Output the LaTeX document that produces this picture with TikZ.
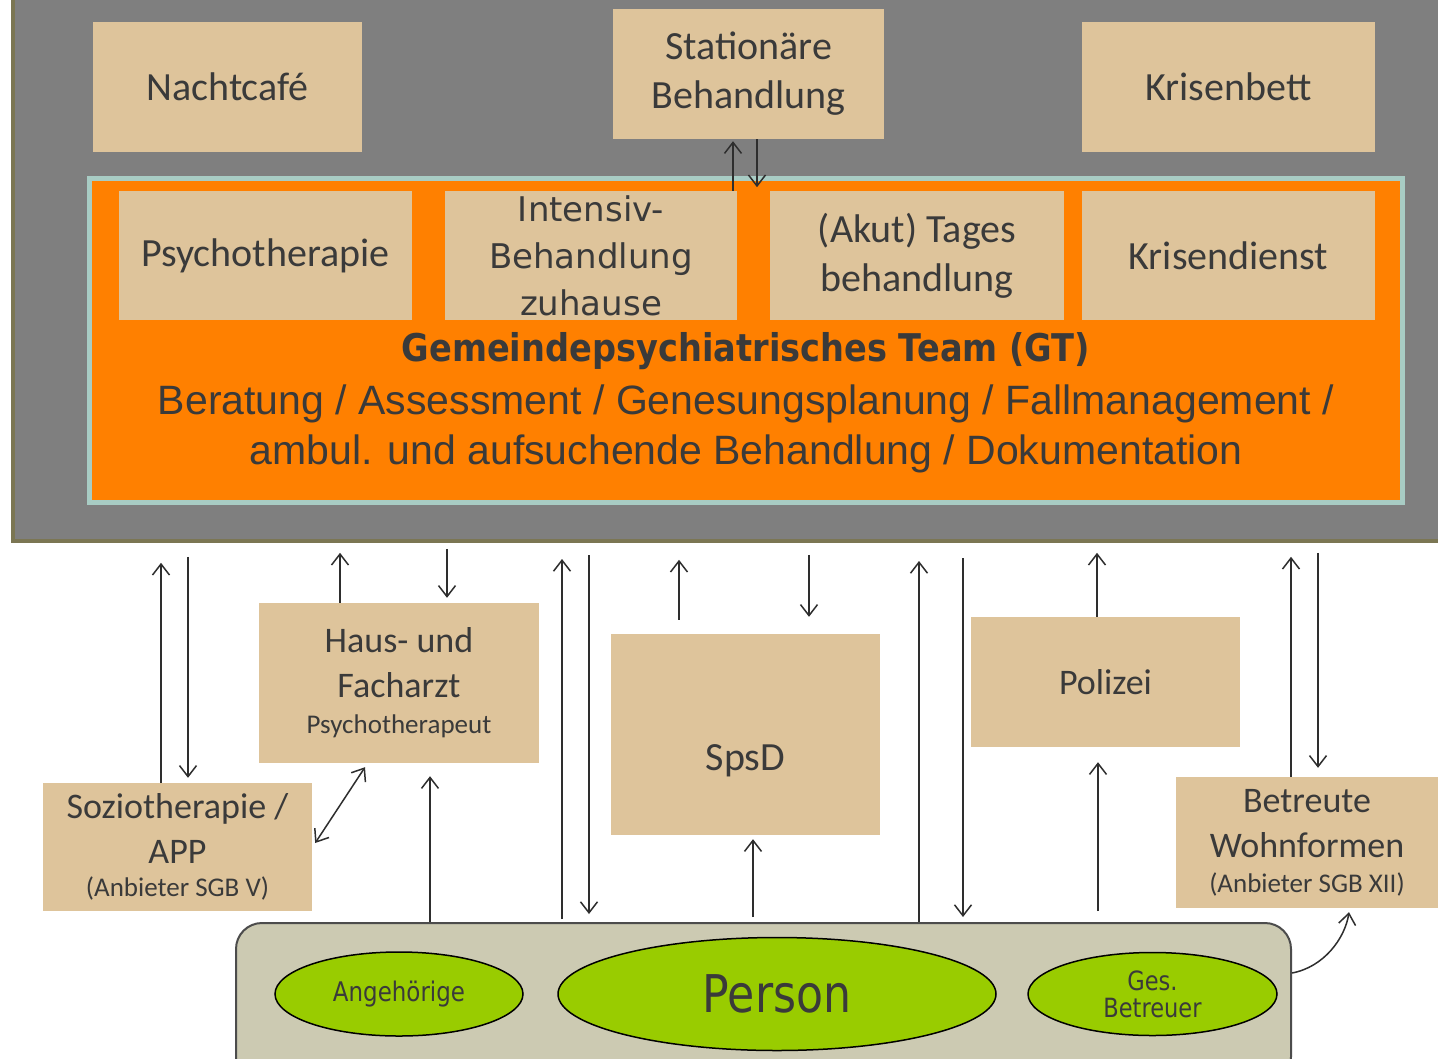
\documentclass[tikz,border=0pt]{standalone}
\usepackage{fontspec}
\setmainfont{Carlito}
\newfontfamily\dv{DejaVu Sans}
\newfontfamily\dvn[FakeStretch=0.85]{DejaVu Sans}
\newfontfamily\dvb[FakeStretch=0.88]{DejaVu Sans}
\newfontfamily\lib{Liberation Sans}
\usetikzlibrary{arrows.meta,calc,shapes.geometric}
\definecolor{bggray}{HTML}{7F7F7F}
\definecolor{olive}{HTML}{7B7653}
\definecolor{beige}{HTML}{DEC49B}
\definecolor{orng}{HTML}{FF8000}
\definecolor{teal2}{HTML}{A8CCC4}
\definecolor{txt}{HTML}{3A3A3A}
\definecolor{contfill}{HTML}{CCCAB2}
\definecolor{grn}{HTML}{99CC00}
\definecolor{arrc}{HTML}{2E2E2E}
\begin{document}
\begin{tikzpicture}[x=1pt,y=-1pt,
  bx/.style={rectangle, fill=beige, inner sep=0pt, align=center, text=txt,
    font=\fontsize{40}{49}\selectfont},
  bxs/.style={bx, font=\fontsize{36}{45}\selectfont},
  ell/.style={ellipse, draw=black, line width=1.5pt, fill=grn, inner sep=0pt, text=txt, align=center},
  arr/.style={draw=arrc, line width=1.5pt, -{Straight Barb[length=11pt,width=17pt]}},
  darr/.style={draw=arrc, line width=1.5pt, {Straight Barb[length=11pt,width=17pt]}-{Straight Barb[length=11pt,width=17pt]}}
]
\useasboundingbox (0,0) rectangle (1438,1058);
\clip (0,0) rectangle (1438,1058);
% background
\fill[white] (0,0) rectangle (1438,1058);
\fill[bggray] (13,-5) rectangle (1445,541);
\draw[olive, line width=4pt] (13,-5) -- (13,541) -- (1445,541);

% top boxes
\node[bx, minimum width=269pt, minimum height=130pt] (nacht) at (227.5,87) {Nachtcafé};
\node[bx, minimum width=271pt, minimum height=130pt] (stat) at (748.5,74) {Stationäre\\Behandlung};
\node[bx, minimum width=293pt, minimum height=130pt] (kbett) at (1228.5,87) {Krisenbett};

% GT box
\node[rectangle, fill=orng, draw=teal2, line width=5pt, minimum width=1313pt, minimum height=324pt, inner sep=0pt] (gt) at (746,340.5) {};
\node[bx, minimum width=293pt, minimum height=129pt] (psy) at (265.5,255.5) {Psychotherapie};
\node[bx, minimum width=292pt, minimum height=129pt, font=\dv\fontsize{34}{47}\selectfont] (intens) at (591,255.5) {Intensiv-\\Behandlung\\zuhause};
\node[bx, minimum width=294pt, minimum height=129pt] (akut) at (917,255.5) {(Akut) Tages\\behandlung};
\node[bx, minimum width=293pt, minimum height=129pt] (kdienst) at (1228.5,255.5) {Krisendienst};
\node[anchor=base, inner sep=0pt, text=txt, font=\dvb\bfseries\fontsize{38.2}{46}\selectfont] (gttitle) at (746,361) {Gemeindepsychiatrisches Team (GT)};
\node[anchor=base, inner sep=0pt, text=txt, font=\lib\fontsize{41}{50}\selectfont] (gtl1) at (746,414) {Beratung / Assessment / Genesungsplanung / Fallmanagement /};
\node[anchor=base, inner sep=0pt, text=txt, font=\lib\fontsize{41}{50}\selectfont] (gtl2) at (746,464) {ambul. und aufsuchende Behandlung / Dokumentation};

\draw[arr] ([xshift=-15.5pt]stat.south |- intens.north) -- ([xshift=-15.5pt,yshift=-2pt]stat.south);
\draw[arr] ([xshift=8.5pt]stat.south) -- ([xshift=8.5pt,yshift=-48pt]stat.south);

% lower boxes
\node[bxs, minimum width=280pt, minimum height=160pt] (haus) at (399,683) {Haus- und\\Facharzt\\[-9pt]{\fontsize{27}{33}\selectfont Psychotherapeut}};
\node[bxs, minimum width=269pt, minimum height=128pt] (soz) at (177.5,847) {Soziotherapie /\\APP\\[-12pt]{\fontsize{27}{33}\selectfont (Anbieter SGB V)}};
\node[bx, minimum width=269pt, minimum height=201pt] (spsd) at (745.5,734.5) {};
\node[anchor=base, inner sep=0pt, text=txt, font=\fontsize{40}{49}\selectfont] (spsdtxt) at (745.5,770) {SpsD};
\node[bxs, minimum width=269pt, minimum height=130pt] (pol) at (1105.5,682) {Polizei};
\node[bxs, minimum width=262pt, minimum height=131pt] (bw) at (1307,842.5) {Betreute\\Wohnformen\\[-10pt]{\fontsize{27}{33}\selectfont (Anbieter SGB XII)}};

% person container
\node[rectangle, rounded corners=26pt, draw=black!70, line width=2pt, fill=contfill, minimum width=1055pt, minimum height=160pt, inner sep=0pt] (pc) at (763.5,1003) {};
\node[ell, minimum width=248pt, minimum height=84pt, font=\dvn\fontsize{27}{32}\selectfont] (ang) at (399,994) {Angehörige};
\node[ell, minimum width=438pt, minimum height=113pt, font=\dvn\fontsize{52}{60}\selectfont] (person) at (777,994) {Person};
\node[ell, minimum width=249pt, minimum height=83pt, font=\dvn\fontsize{26.5}{27}\selectfont] (ges) at (1152.5,994) {Ges.\\Betreuer};

% arrows
\draw[arr] ($(soz.north)+(-16.5,0)$) -- ($(soz.north)+(-16.5,-220)$);
\draw[arr] ($(soz.north)+(10.5,-226)$) -- ($(soz.north)+(10.5,-5)$);
\draw[arr] ($(haus.north)+(-59,0)$) -- ($(haus.north)+(-59,-50)$);
\draw[arr] ($(haus.north)+(48,-54)$) -- ($(haus.north)+(48,-5)$);
\draw[darr] ($(soz.east)+(3,-4)$) -- ($(haus.south)+(-34,4)$);
\draw[arr] ($(pc.north)+(-333.5,0)$) -- ($(haus.south)+(31,13)$);
\draw[arr] ($(pc.north)+(-201.5,-3)$) -- ($(pc.north)+(-201.5,-363)$);
\draw[arr] ($(pc.north)+(-174.5,-367)$) -- ($(pc.north)+(-174.5,-8)$);
\draw[arr] ($(spsd.north)+(-66.5,-14)$) -- ($(spsd.north)+(-66.5,-74)$);
\draw[arr] ($(spsd.north)+(63.5,-79)$) -- ($(spsd.north)+(63.5,-17)$);
\draw[arr] ($(pc.north)+(-10.5,-5)$) -- ($(spsd.south)+(7.5,4)$);
\draw[arr] ($(pc.north)+(155.5,0)$) -- ($(pc.north)+(155.5,-361)$);
\draw[arr] ($(pc.north)+(199.5,-364)$) -- ($(pc.north)+(199.5,-5)$);
\draw[arr] ($(pol.north)+(-8.5,0)$) -- ($(pol.north)+(-8.5,-64)$);
\draw[arr] ($(pc.north)+(334.5,-11)$) -- ($(pol.south)+(-7.5,15)$);
\draw[arr] ($(bw.north)+(-16,0)$) -- ($(bw.north)+(-16,-220)$);
\draw[arr] ($(bw.north)+(11,-224)$) -- ($(bw.north)+(11,-9)$);
\draw[arr] ($(pc.east)+(0,-30)$) .. controls ($(pc.east)+(32,-36)$) and ($(bw.south)+(38,30)$) .. ($(bw.south)+(42,4)$);
\end{tikzpicture}
\end{document}
